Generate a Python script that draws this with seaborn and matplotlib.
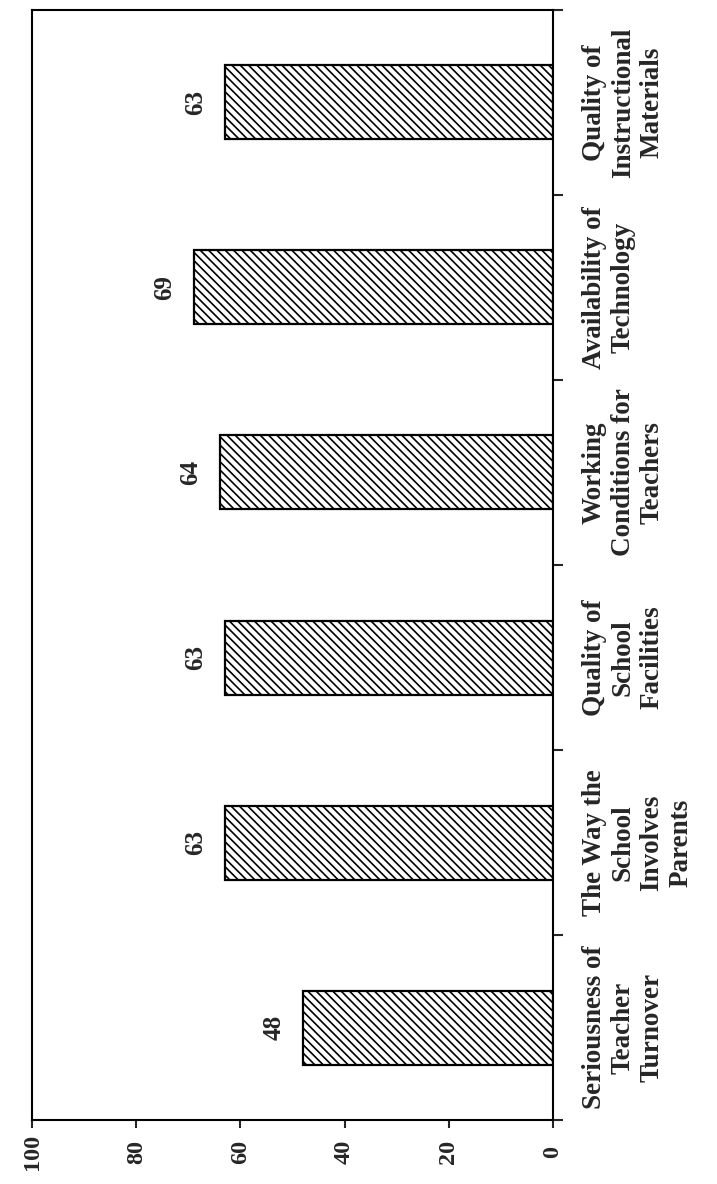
import numpy as np
import pandas as pd
import matplotlib
matplotlib.use('Agg')
import matplotlib.pyplot as plt
import seaborn as sns

# survey items, bottom to top in the (rotated) figure
categories = ['Seriousness of\nTeacher\nTurnover',
              'The Way the\nSchool\nInvolves\nParents',
              'Quality of\nSchool\nFacilities',
              'Working\nConditions for\nTeachers',
              'Availability of\nTechnology',
              'Quality of\nInstructional\nMaterials']
values = [48, 63, 63, 64, 69, 63]
value_ticks = [0, 20, 40, 60, 80, 100]

sns.set_style('white')
plt.rcParams['font.family'] = ['Liberation Serif', 'DejaVu Serif']
plt.rcParams['font.weight'] = 'bold'
plt.rcParams['hatch.linewidth'] = 1.2

df = pd.DataFrame({'item': categories, 'pct': values})

fig = plt.figure(figsize=(7.17, 11.84), dpi=100)
ax = fig.add_axes([0.045, 0.054, 0.726, 0.9376])
sns.barplot(data=df, x='pct', y='item', orient='h', color='white', saturation=1,
            edgecolor='black', linewidth=1.6, width=0.4, ax=ax)
for p in ax.patches:
    p.set_hatch('\\\\\\\\')

# chart is printed turned on its side: 0 at right, 100 at left
ax.set_xlim(100, 0)
ax.set_ylim(-0.5, 5.5)
ax.set_xlabel('')
ax.set_ylabel('')

ax.set_xticks(value_ticks)
ax.set_xticklabels([str(v) for v in value_ticks], rotation=90, va='center',
                   fontsize=17.5, fontweight='bold')
ax.tick_params(axis='x', direction='out', length=6, width=1.5, pad=17, bottom=True)

ax.yaxis.tick_right()
ax.set_yticks(range(len(categories)))
ax.set_yticklabels(categories, rotation=90, ha='left', va='center',
                   multialignment='center', fontsize=19.5, fontweight='bold')
ax.set_yticks(np.arange(-0.5, len(categories), 1), minor=True)
ax.tick_params(axis='y', which='major', length=0, pad=21)
ax.tick_params(axis='y', which='minor', direction='out', length=7, width=1.5,
               right=True, left=False)

for s in ax.spines.values():
    s.set_visible(True)
    s.set_color('black')
    s.set_linewidth(1.5)

for i, v in enumerate(values):
    ax.annotate(str(v), xy=(v, i), xytext=(-21, 0), textcoords='offset points',
                rotation=90, ha='center', va='center', fontsize=18, fontweight='bold')

fig.savefig('out.png', dpi=100)
